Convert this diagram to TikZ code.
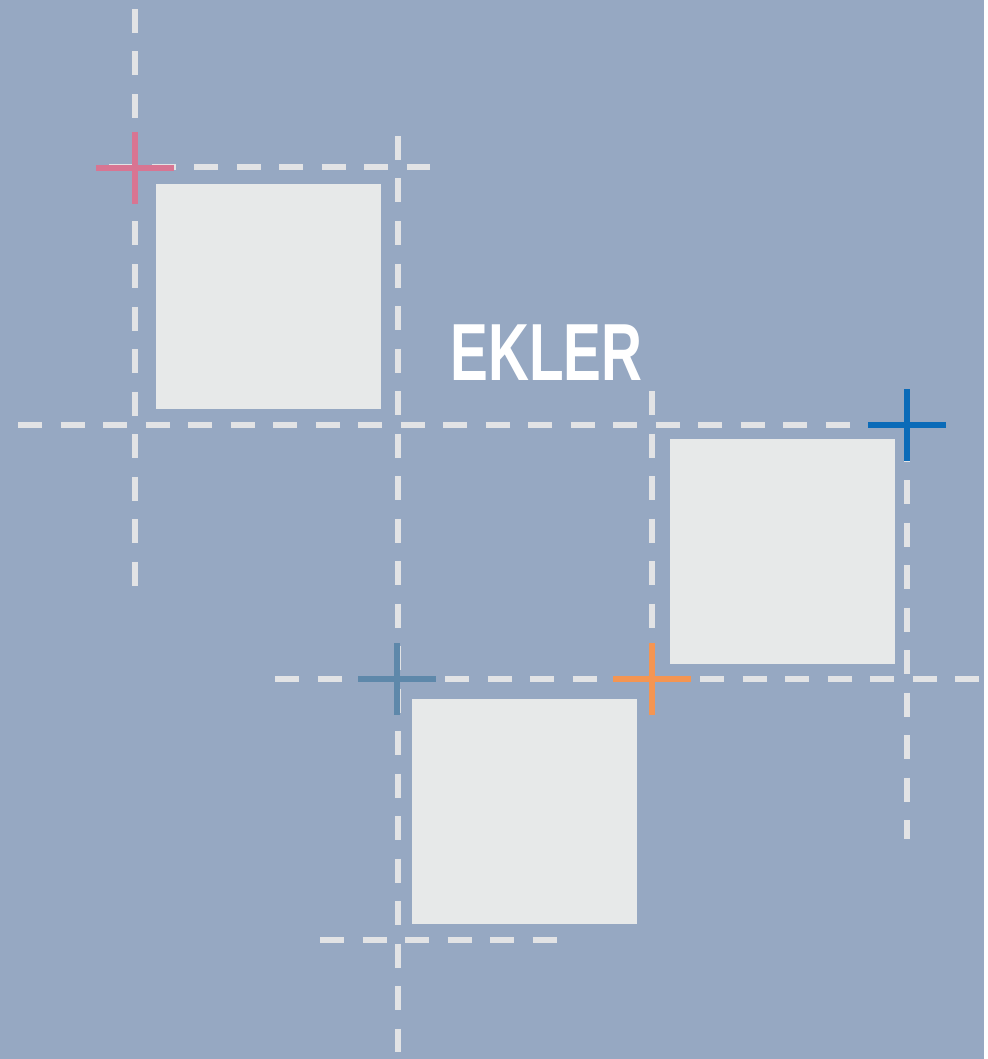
\documentclass[tikz,border=0pt]{standalone}
\usepackage{fontspec}
\usepackage{graphicx}
\setmainfont{Liberation Sans}
\definecolor{bgblue}{RGB}{150,168,194}
\definecolor{tilegray}{RGB}{231,233,233}
\definecolor{guidegray}{RGB}{226,227,229}
\definecolor{markpink}{RGB}{216,117,146}
\definecolor{markblue}{RGB}{11,107,184}
\definecolor{marksteel}{RGB}{94,136,170}
\definecolor{markorange}{RGB}{244,149,82}

\begin{document}
\begin{tikzpicture}[x=0.5pt, y=-0.5pt,
  guide/.style={guidegray, line width=3pt, dash pattern=on 12pt off 9.25pt},
  tile/.style={fill=tilegray},
  crossmark/.style={line width=3pt}]
% Background
\fill[bgblue] (0,0) rectangle (984,1059);

% Guide lines (vertical)
\draw[guide] (135,9) -- (135,586);
\draw[guide] (398,136) -- (398,1052);
\draw[guide] (652,391) -- (652,668);
\draw[guide] (907,395) -- (907,839);

% Guide lines (horizontal)
\draw[guide] (109,167) -- (430,167);
\draw[guide] (18,425) -- (870,425);
\draw[guide] (275,679) -- (984,679);
\draw[guide] (320,940) -- (561,940);

% Tiles
\fill[tile] (156,184) rectangle (381,409);
\fill[tile] (670,439) rectangle (895,664);
\fill[tile] (412,699) rectangle (637,924);

% Register marks
\foreach \cx/\cy/\col in {135/168/markpink, 907/425/markblue, 397/679/marksteel, 652/679/markorange}
  \draw[crossmark, \col] (\cx-39,\cy) -- (\cx+39,\cy) (\cx,\cy-36) -- (\cx,\cy+36);

% Title
\node[text=white, anchor=base, inner sep=0pt, font=\bfseries\fontsize{40.5}{40}\selectfont] (title) at (546.5,380) {\scalebox{0.70}[1]{EKLER}};
\end{tikzpicture}
\end{document}
